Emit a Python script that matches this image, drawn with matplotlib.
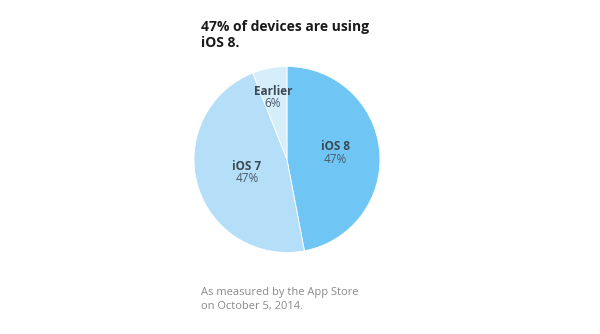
import matplotlib.pyplot as plt

labels = ["iOS 8", "iOS 7", "Earlier"]
shares = [47, 47, 6]
colors = ["#6fc6f4", "#b5dff8", "#d6edfa"]
# label anchor inside the pie, in units of radius
label_xy = [(0.52, 0.07), (-0.43, -0.14), (-0.15, 0.67)]

title = "47% of devices are using\niOS 8."
note = "As measured by the App Store\non October 5, 2014."

plt.rcParams['font.family'] = ['Open Sans', 'DejaVu Sans']

fig = plt.figure(figsize=(6, 3.34), dpi=100)
fig.patch.set_facecolor("white")

ax = fig.add_axes([0.3233, 0.241, 0.31, 0.563])
ax.pie(shares, colors=colors, startangle=90, counterclock=False,
       wedgeprops=dict(edgecolor="white", linewidth=0.6))
ax.set_xlim(-1, 1)
ax.set_ylim(-1, 1)
ax.set_aspect("equal")

for name, val, (x, y) in zip(labels, shares, label_xy):
    ax.text(x, y + 0.065, name, ha="center", va="center", fontsize=8.5,
            fontweight="bold", color="#3a4a55")
    ax.text(x, y - 0.065, f"{val}%", ha="center", va="center", fontsize=8.5,
            color="#4a5a66")

fig.text(201 / 600, 1 - 20 / 334, title, ha="left", va="top", fontsize=10,
         fontweight="bold", color="#1a1a1a", linespacing=1.2)
fig.text(201 / 600, 1 - 287 / 334, note, ha="left", va="top", fontsize=8,
         color="#8a8a8a", linespacing=1.4)

fig.savefig("out.png", dpi=100)
